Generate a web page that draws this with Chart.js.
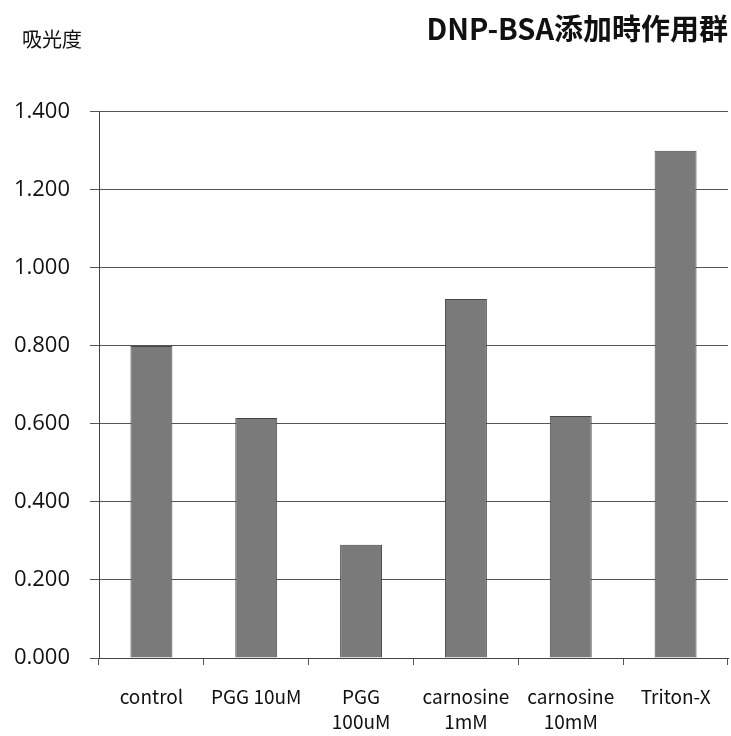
<!DOCTYPE html>
<html>
<head>
<meta charset="utf-8">
<style>
  html, body { margin: 0; padding: 0; background: #ffffff; }
  #wrap { width: 731px; height: 736px; position: relative; }
</style>
<script src="https://cdn.jsdelivr.net/npm/chart.js@4/dist/chart.umd.min.js"></script>
</head>
<body>
<div id="wrap"><canvas id="chart" width="731" height="736"></canvas></div>
<script>
// Absorbance per treatment group
const categories = [
  ['control'],
  ['PGG 10uM'],
  ['PGG', '100uM'],
  ['carnosine', '1mM'],
  ['carnosine', '10mM'],
  ['Triton-X']
];
const absorbance = [0.800, 0.615, 0.290, 0.920, 0.620, 1.300];
const yTicks = [0, 0.2, 0.4, 0.6, 0.8, 1.0, 1.2, 1.4];

const chartTitle = 'DNP-BSA添加時作用群';
const yAxisLabel = '吸光度';

// Axis caption in the top-left corner
const cornerLabel = {
  id: 'cornerLabel',
  afterDraw(chart) {
    const ctx = chart.ctx;
    ctx.save();
    ctx.fillStyle = '#111';
    ctx.font = '20px "Noto Sans CJK JP"';
    ctx.textAlign = 'left';
    ctx.textBaseline = 'middle';
    ctx.fillText(yAxisLabel, 22, 39);
    ctx.restore();
  }
};

new Chart(document.getElementById('chart'), {
  type: 'bar',
  data: {
    labels: categories,
    datasets: [{
      data: absorbance,
      backgroundColor: '#7a7a7a',
      borderColor: '#474747',
      borderWidth: 1,
      categoryPercentage: 1.0,
      barPercentage: 0.4
    }]
  },
  options: {
    responsive: false,
    animation: false,
    layout: { padding: { left: 0, right: 3, top: 0, bottom: 0 } },
    plugins: {
      legend: { display: false },
      tooltip: { enabled: false },
      title: {
        display: true,
        text: chartTitle,
        align: 'end',
        color: '#111',
        font: { family: '"Noto Sans CJK JP"', size: 29, weight: 'bold', lineHeight: 1.2 },
        padding: { top: 12, bottom: 65 }
      }
    },
    scales: {
      x: {
        grid: {
          offset: true,
          drawOnChartArea: false,
          drawTicks: true,
          tickLength: 7,
          color: '#555'
        },
        border: { display: true, color: '#444', width: 1 },
        ticks: {
          color: '#111',
          padding: 19,
          maxRotation: 0,
          autoSkip: false,
          font: { family: '"Noto Sans CJK JP"', size: 19, lineHeight: 1.32 }
        },
        afterFit(scale) { scale.height = 78; }
      },
      y: {
        min: 0,
        max: 1.4,
        afterBuildTicks(scale) {
          scale.ticks = yTicks.map(v => ({ value: v }));
        },
        grid: {
          color: '#555',
          lineWidth: 1,
          drawTicks: true,
          tickLength: 9
        },
        border: { display: true, color: '#444', width: 1 },
        ticks: {
          color: '#111',
          padding: 20,
          font: { family: '"Open Sans"', size: 22 },
          callback: v => Number(v).toFixed(3)
        },
        afterFit(scale) { scale.width = 99; }
      }
    }
  },
  plugins: [cornerLabel]
});
</script>
</body>
</html>
